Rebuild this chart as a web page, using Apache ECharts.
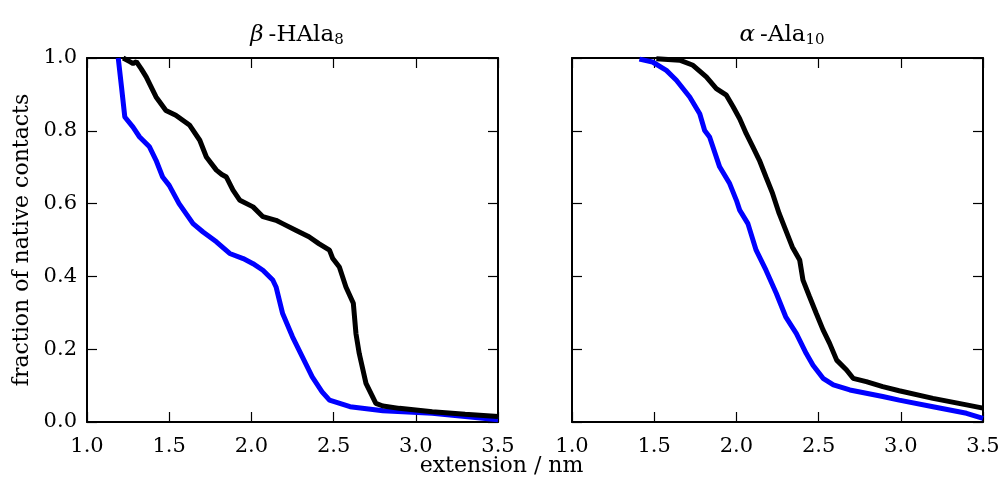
<!DOCTYPE html>
<html>
<head>
<meta charset="utf-8">
<script src="https://cdn.jsdelivr.net/npm/echarts@6/dist/echarts.min.js"></script>
<style>html,body{margin:0;padding:0;background:#fff;}#c{width:1003px;height:481px;}</style>
</head>
<body>
<div id="c"></div>
<script>
const xTicks = [1.0, 1.5, 2.0, 2.5, 3.0, 3.5];
const yTicks = [0.0, 0.2, 0.4, 0.6, 0.8, 1.0];

const betaBlack = [[1.22,1.0],[1.26,0.99],[1.28,0.985],[1.3,0.99],[1.33,0.97],[1.36,0.948],[1.42,0.893],[1.48,0.856],[1.54,0.843],[1.625,0.815],[1.686,0.774],[1.726,0.728],[1.787,0.692],[1.82,0.68],[1.848,0.673],[1.888,0.637],[1.93,0.609],[2.01,0.591],[2.07,0.564],[2.15,0.554],[2.19,0.545],[2.27,0.527],[2.35,0.509],[2.41,0.49],[2.475,0.472],[2.495,0.449],[2.535,0.426],[2.575,0.371],[2.62,0.326],[2.636,0.243],[2.656,0.188],[2.697,0.106],[2.757,0.051],[2.8,0.044],[2.9,0.0375],[3.1,0.028],[3.3,0.021],[3.5,0.015]];
const betaBlue = [[1.19,1.0],[1.21,0.92],[1.23,0.838],[1.28,0.81],[1.32,0.783],[1.38,0.756],[1.42,0.719],[1.46,0.673],[1.5,0.65],[1.56,0.6],[1.645,0.545],[1.706,0.522],[1.787,0.495],[1.868,0.463],[1.95,0.449],[2.01,0.435],[2.07,0.417],[2.13,0.39],[2.15,0.371],[2.19,0.298],[2.25,0.234],[2.31,0.179],[2.37,0.124],[2.43,0.083],[2.475,0.06],[2.6,0.042],[2.8,0.031],[3.1,0.024],[3.3,0.015],[3.5,0.006]];
const alphaBlack = [[1.513,0.998],[1.655,0.994],[1.736,0.98],[1.817,0.948],[1.878,0.916],[1.939,0.898],[1.98,0.866],[2.02,0.833],[2.06,0.792],[2.1,0.756],[2.14,0.719],[2.18,0.673],[2.22,0.628],[2.26,0.573],[2.3,0.527],[2.34,0.481],[2.385,0.445],[2.405,0.39],[2.445,0.344],[2.486,0.298],[2.527,0.253],[2.567,0.216],[2.61,0.17],[2.67,0.143],[2.71,0.12],[2.79,0.111],[2.89,0.097],[2.99,0.086],[3.196,0.065],[3.4,0.047],[3.5,0.038]];
const alphaBlue = [[1.41,0.997],[1.49,0.989],[1.574,0.966],[1.635,0.939],[1.716,0.893],[1.777,0.847],[1.807,0.801],[1.837,0.783],[1.898,0.701],[1.959,0.655],[2.0,0.609],[2.02,0.582],[2.07,0.545],[2.12,0.472],[2.18,0.417],[2.243,0.353],[2.3,0.289],[2.365,0.243],[2.425,0.188],[2.466,0.156],[2.527,0.12],[2.59,0.102],[2.69,0.088],[2.79,0.079],[2.89,0.07],[2.99,0.06],[3.196,0.042],[3.4,0.024],[3.5,0.01]];

const FONT = 'DejaVu Serif';
const FS = 21;
const chart = echarts.init(document.getElementById('c'), null, {renderer:'canvas'});

function xAx(gi, pos, showLabel){
  return {type:'value', gridIndex:gi, position:pos, min:xTicks[0], max:xTicks[xTicks.length-1], interval:0.5,
    axisLine:{show:true, onZero:false, lineStyle:{color:'#000', width:2}},
    axisTick:{show:true, inside:true, length:10, lineStyle:{color:'#000', width:1.2}},
    axisLabel:{show:showLabel, color:'#000', fontFamily:FONT, fontSize:FS, margin:14, formatter:v=>v.toFixed(1)},
    splitLine:{show:false}};
}
function yAx(gi, pos, showLabel, name){
  return {type:'value', gridIndex:gi, position:pos, min:yTicks[0], max:yTicks[yTicks.length-1], interval:0.2,
    name:name||'', nameLocation:'middle', nameGap:54, nameRotate:90,
    nameTextStyle:{color:'#000', fontFamily:FONT, fontSize:22},
    axisLine:{show:true, onZero:false, lineStyle:{color:'#000', width:2}},
    axisTick:{show:true, inside:true, length:10, lineStyle:{color:'#000', width:1.2}},
    axisLabel:{show:showLabel, color:'#000', fontFamily:FONT, fontSize:FS, margin:10, formatter:v=>v.toFixed(1)},
    splitLine:{show:false}};
}
function line(xi, yi, data, color){
  return {type:'line', xAxisIndex:xi, yAxisIndex:yi, data:data, showSymbol:false, symbol:'none',
    lineStyle:{color:color, width:5}, itemStyle:{color:color}, animation:false, z:3};
}
const rich = {
  g:{fontFamily:FONT, fontSize:23, fontStyle:'italic', fontWeight:'normal', color:'#000'},
  t:{fontFamily:FONT, fontSize:23, fontWeight:'normal', color:'#000'},
  s:{fontFamily:FONT, fontSize:15, fontWeight:'normal', color:'#000', padding:[10,0,0,0]}
};
chart.setOption({
  backgroundColor:'#fff',
  animation:false,
  title:[
    {text:'{g|β} {t|-HAla}{s|8}', left:292, top:18, textAlign:'center', textStyle:{fontWeight:'normal', rich:rich}},
    {text:'{g|α} {t|-Ala}{s|10}', left:777, top:18, textAlign:'center', textStyle:{fontWeight:'normal', rich:rich}}
  ],
  grid:[
    {left:87, top:58, width:411, height:364, show:false},
    {left:572, top:58, width:411, height:364, show:false}
  ],
  xAxis:[xAx(0,'bottom',true), xAx(1,'bottom',true), xAx(0,'top',false), xAx(1,'top',false)],
  yAxis:[yAx(0,'left',true,'fraction of native contacts'), yAx(1,'left',false), yAx(0,'right',false), yAx(1,'right',false)],
  graphic:[{type:'text', left:'center', top:455, style:{text:'extension / nm', font:'22px "DejaVu Serif"', fill:'#000'}}],
  series:[
    line(0,0,betaBlue,'#0000ff'),
    line(0,0,betaBlack,'#000000'),
    line(1,1,alphaBlue,'#0000ff'),
    line(1,1,alphaBlack,'#000000')
  ]
});
</script>
</body>
</html>
